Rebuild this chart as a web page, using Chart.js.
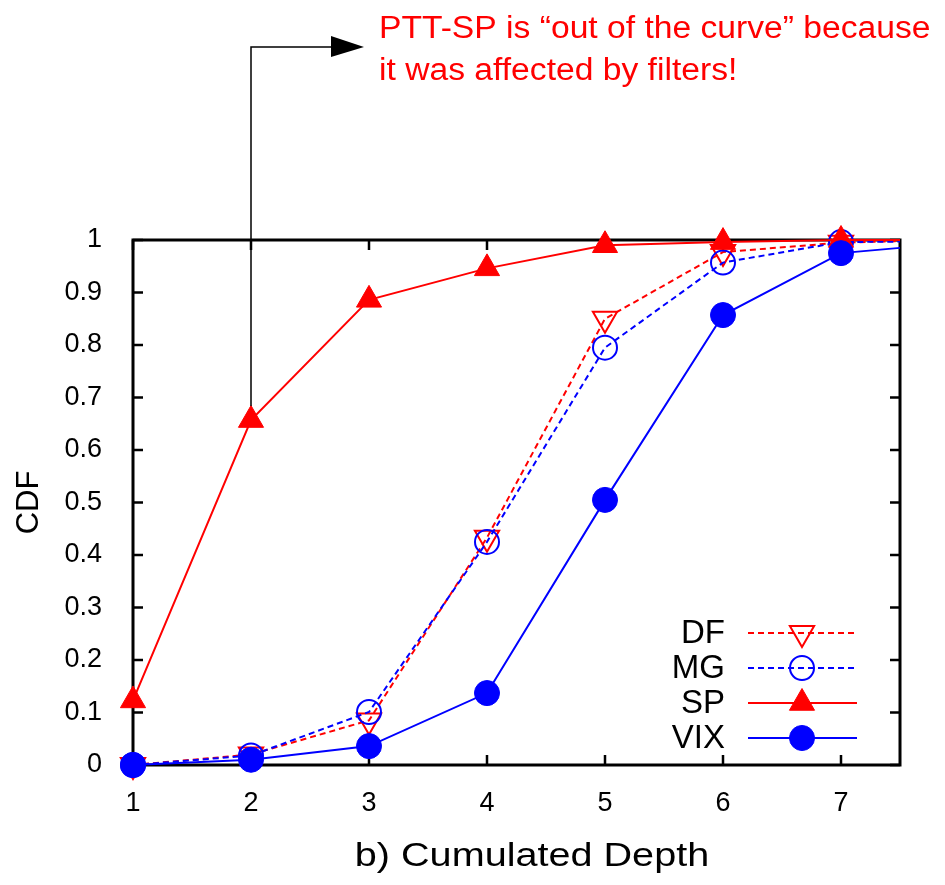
<!DOCTYPE html>
<html>
<head>
<meta charset="utf-8">
<script src="https://cdn.jsdelivr.net/npm/chart.js@4/dist/chart.umd.min.js"></script>
<style>
  html, body { margin: 0; padding: 0; background: #fff; }
  #wrap { width: 945px; height: 885px; }
</style>
</head>
<body>
<div id="wrap"><canvas id="cdf_chart"></canvas></div>
<script>
  // values
  var depth = [1, 2, 3, 4, 5, 6, 7, 7.5];
  var dfCdf = [0, 0.02, 0.085, 0.433, 0.85, 0.977, 0.995, 0.998];
  var mgCdf = [0, 0.018, 0.101, 0.425, 0.795, 0.957, 0.996, 0.997];
  var spCdf = [0.123, 0.657, 0.886, 0.946, 0.99, 0.996, 1.0, 1.0];
  var vixCdf = [0, 0.01, 0.036, 0.137, 0.505, 0.857, 0.975, 0.985];
  var xTickValues = [1, 2, 3, 4, 5, 6, 7];
  var yTickValues = [0, 0.1, 0.2, 0.3, 0.4, 0.5, 0.6, 0.7, 0.8, 0.9, 1];
  var seriesNames = ["DF", "MG", "SP", "VIX"];
  var xTitle = "b) Cumulated Depth";
  var yTitle = "CDF";
  var noteLines = ["PTT-SP is \u201cout of the curve\u201d because", "it was affected by filters!"];

  var RED = "#ff0000";
  var BLUE = "#0000ff";
  var FONT = "'Liberation Sans', Arial, Helvetica, sans-serif";

  Chart.defaults.font.family = FONT;
  Chart.defaults.color = "#000";

  function points(vals) {
    return depth.map(function(d, i) {
      return { x: d, y: vals[i] };
    });
  }

  // last point only carries the line to the right border, no marker
  function markerSize(r) {
    return function(ctx) {
      return ctx.dataIndex == depth.length - 1 ? 0 : r;
    };
  }

  var datasets = [
    {
      label: seriesNames[0],
      data: points(dfCdf),
      borderColor: RED,
      borderWidth: 2,
      borderDash: [6, 4],
      pointStyle: "triangle",
      rotation: 180,
      pointRadius: markerSize(14),
      pointBackgroundColor: "rgba(0,0,0,0)",
      pointBorderColor: RED,
      pointBorderWidth: 2,
      order: 3
    },
    {
      label: seriesNames[1],
      data: points(mgCdf),
      borderColor: BLUE,
      borderWidth: 2,
      borderDash: [6, 4],
      pointStyle: "circle",
      pointRadius: markerSize(12),
      pointBackgroundColor: "rgba(0,0,0,0)",
      pointBorderColor: BLUE,
      pointBorderWidth: 2,
      order: 2
    },
    {
      label: seriesNames[2],
      data: points(spCdf),
      borderColor: RED,
      borderWidth: 2,
      pointStyle: "triangle",
      pointRadius: markerSize(14.5),
      pointBackgroundColor: RED,
      pointBorderColor: RED,
      pointBorderWidth: 1,
      order: 1
    },
    {
      label: seriesNames[3],
      data: points(vixCdf),
      borderColor: BLUE,
      borderWidth: 2,
      pointStyle: "circle",
      pointRadius: markerSize(12.5),
      pointBackgroundColor: BLUE,
      pointBorderColor: BLUE,
      pointBorderWidth: 1,
      order: 0
    }
  ];
  datasets.forEach(function(ds) {
    ds.clip = false;
    ds.tension = 0;
    ds.pointHoverRadius = ds.pointRadius;
  });

  // gnuplot style border with inward ticks on all four sides
  var framePlugin = {
    id: "frame",
    beforeDatasetsDraw: function(chart) {
      var ctx = chart.ctx;
      var a = chart.chartArea;
      var xs = chart.scales.x;
      var ys = chart.scales.y;
      var tick = 10;
      ctx.save();
      ctx.strokeStyle = "#000";
      ctx.lineWidth = 2.5;
      ctx.beginPath();
      xTickValues.forEach(function(v) {
        var px = xs.getPixelForValue(v);
        ctx.moveTo(px, a.bottom);
        ctx.lineTo(px, a.bottom - tick);
        ctx.moveTo(px, a.top);
        ctx.lineTo(px, a.top + tick);
      });
      yTickValues.forEach(function(v) {
        var py = ys.getPixelForValue(v);
        ctx.moveTo(a.left, py);
        ctx.lineTo(a.left + tick, py);
        ctx.moveTo(a.right, py);
        ctx.lineTo(a.right - tick, py);
      });
      ctx.stroke();
      ctx.lineWidth = 3;
      ctx.strokeRect(a.left, a.top, a.right - a.left, a.bottom - a.top);
      ctx.restore();
    }
  };

  var legendPlugin = {
    id: "insideLegend",
    afterDatasetsDraw: function(chart) {
      var ctx = chart.ctx;
      var textRight = 725;
      var lineStart = 748;
      var lineEnd = 857;
      var markX = 802;
      ctx.save();
      ctx.font = "33px " + FONT;
      ctx.textAlign = "right";
      ctx.textBaseline = "middle";
      seriesNames.forEach(function(name, i) {
        var ds = chart.data.datasets[i];
        var rowY = 633 + i * 35;
        ctx.fillStyle = "#000";
        ctx.fillText(name, textRight, rowY + 1);
        ctx.strokeStyle = ds.borderColor;
        ctx.lineWidth = ds.borderWidth;
        ctx.setLineDash(ds.borderDash || []);
        ctx.beginPath();
        ctx.moveTo(lineStart, rowY);
        ctx.lineTo(lineEnd, rowY);
        ctx.stroke();
        ctx.setLineDash([]);
        ctx.fillStyle = ds.pointBackgroundColor;
        ctx.strokeStyle = ds.pointBorderColor;
        ctx.lineWidth = ds.pointBorderWidth;
        Chart.helpers.drawPoint(ctx, {
          pointStyle: ds.pointStyle,
          rotation: ds.rotation || 0,
          radius: ds.pointRadius({ dataIndex: 0 }),
          borderWidth: ds.pointBorderWidth
        }, markX, rowY);
      });
      ctx.restore();
    }
  };

  var notePlugin = {
    id: "note",
    afterDraw: function(chart) {
      var ctx = chart.ctx;
      var px = chart.scales.x.getPixelForValue(depth[1]);
      var py = chart.scales.y.getPixelForValue(spCdf[1]);
      ctx.save();
      // arrow from the SP point up and right to the note
      ctx.strokeStyle = "#000";
      ctx.lineWidth = 1.5;
      ctx.beginPath();
      ctx.moveTo(px, py - 14);
      ctx.lineTo(px, 47);
      ctx.lineTo(333, 47);
      ctx.stroke();
      ctx.fillStyle = "#000";
      ctx.beginPath();
      ctx.moveTo(331, 36);
      ctx.lineTo(364, 47);
      ctx.lineTo(331, 57);
      ctx.closePath();
      ctx.fill();

      ctx.fillStyle = RED;
      ctx.font = "31px " + FONT;
      ctx.textAlign = "left";
      ctx.textBaseline = "alphabetic";
      noteLines.forEach(function(line, i) {
        ctx.save();
        ctx.translate(379, 38 + i * 42);
        ctx.scale(1.085, 1);
        ctx.fillText(line, 0, 0);
        ctx.restore();
      });

      // x axis title
      ctx.fillStyle = "#000";
      ctx.font = "33px " + FONT;
      ctx.textAlign = "center";
      ctx.save();
      ctx.translate(532, 866);
      ctx.scale(1.2, 1);
      ctx.fillText(xTitle, 0, 0);
      ctx.restore();
      ctx.restore();
    }
  };

  var ctx = document.getElementById("cdf_chart").getContext("2d");

  window.cdfChart = new Chart(ctx, {
    type: "line",
    data: { datasets: datasets },
    plugins: [framePlugin, legendPlugin, notePlugin],
    options: {
      responsive: true,
      maintainAspectRatio: false,
      animation: false,
      events: [],
      layout: {
        padding: { top: 240, right: 45, bottom: 0, left: 0 }
      },
      plugins: {
        legend: { display: false },
        tooltip: { enabled: false },
        title: { display: false }
      },
      scales: {
        x: {
          type: "linear",
          min: 1,
          max: 7.5,
          grid: { display: false },
          border: { display: false },
          afterBuildTicks: function(scale) {
            scale.ticks = xTickValues.map(function(v) {
              return { value: v };
            });
          },
          afterFit: function(scale) {
            scale.height = 120;
          },
          ticks: {
            padding: 14,
            maxRotation: 0,
            autoSkip: false,
            color: "#000",
            font: { size: 27 },
            callback: function(value) {
              return String(value);
            }
          }
        },
        y: {
          type: "linear",
          min: 0,
          max: 1,
          grid: { display: false },
          border: { display: false },
          afterBuildTicks: function(scale) {
            scale.ticks = yTickValues.map(function(v) {
              return { value: v };
            });
          },
          afterFit: function(scale) {
            scale.width = 133;
          },
          ticks: {
            padding: 23,
            autoSkip: false,
            color: "#000",
            font: { size: 27 },
            callback: function(value) {
              return String(Math.round(value * 10) / 10);
            }
          },
          title: {
            display: true,
            text: yTitle,
            color: "#000",
            font: { size: 31 },
            padding: { top: 11, bottom: 0 }
          }
        }
      }
    }
  });
</script>
</body>
</html>
